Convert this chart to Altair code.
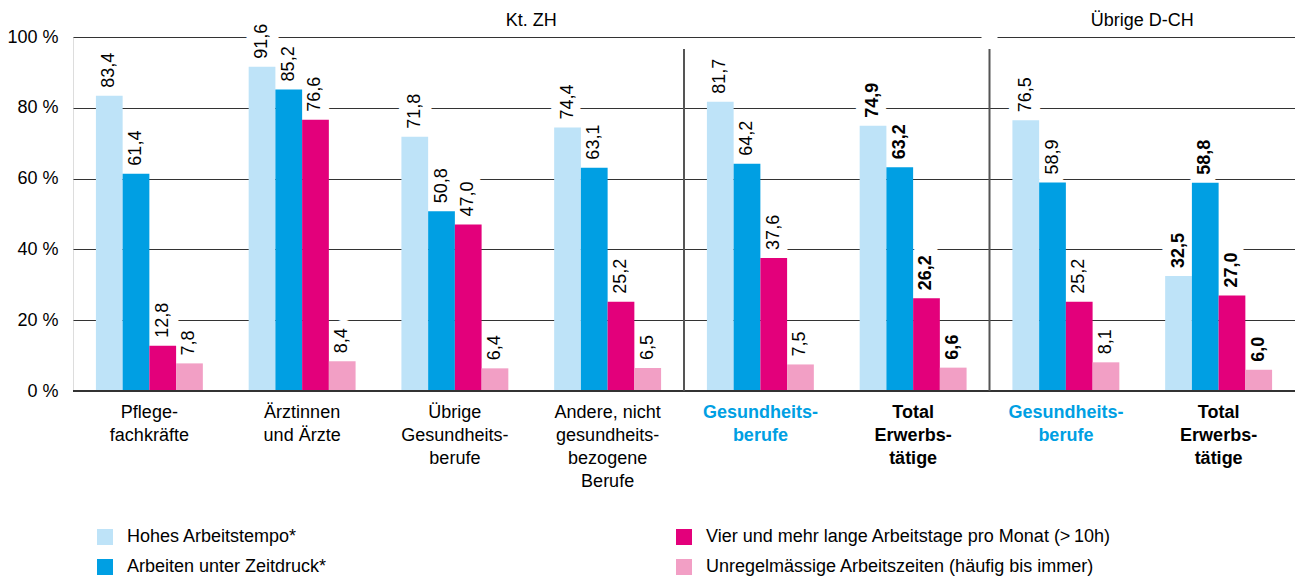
import json
import altair as alt
import pandas as pd

# ---------------- data ----------------
regions = ["Kt. ZH"] * 6 + ["Übrige D-CH"] * 2
categories = [
    "Pflege-\nfachkräfte",
    "Ärztinnen\nund Ärzte",
    "Übrige\nGesundheits-\nberufe",
    "Andere, nicht\ngesundheits-\nbezogene\nBerufe",
    "Gesundheits-\nberufe",
    "Total\nErwerbs-\ntätige",
    "Gesundheits-\nberufe",
    "Total\nErwerbs-\ntätige",
]
series = [
    "Hohes Arbeitstempo*",
    "Arbeiten unter Zeitdruck*",
    "Vier und mehr lange Arbeitstage pro Monat (>\u200910h)",
    "Unregelmässige Arbeitszeiten (häufig bis immer)",
]
hohes_tempo = [83.4, 91.6, 71.8, 74.4, 81.7, 74.9, 76.5, 32.5]
zeitdruck = [61.4, 85.2, 50.8, 63.1, 64.2, 63.2, 58.9, 58.8]
lange_tage = [12.8, 76.6, 47.0, 25.2, 37.6, 26.2, 25.2, 27.0]
unregelmaessig = [7.8, 8.4, 6.4, 6.5, 7.5, 6.6, 8.1, 6.0]
highlight_blue = [False, False, False, False, True, False, True, False]
highlight_total = [False, False, False, False, False, True, False, True]

colors = ["#BEE3F8", "#009FE3", "#E3007B", "#F29FC5"]

# ---------------- tables ----------------
keys = [f"{r}|{c}" for r, c in zip(regions, categories)]
rows = []
for s, vals in zip(series, [hohes_tempo, zeitdruck, lange_tage, unregelmaessig]):
    for k, v, b in zip(keys, vals, highlight_total):
        rows.append({"key": k, "series": s, "value": v, "bold": b})
df = pd.DataFrame(rows)

FONT = "Liberation Sans"
W, H = 1222, 354
PAD_INNER, PAD_OUTER = 0.3, 0.15
step = W / (len(keys) - PAD_INNER + 2 * PAD_OUTER)
half = step / 2

blue_keys = [k for k, b in zip(keys, highlight_blue) if b]
bold_keys = [k for k, b in zip(keys, highlight_total) if b]
test_blue = " || ".join(f"datum.label == {json.dumps(k)}" for k in blue_keys)
test_bold = " || ".join(f"datum.label == {json.dumps(k)}" for k in blue_keys + bold_keys)

x_enc = alt.X(
    "key:N",
    sort=keys,
    scale=alt.Scale(paddingInner=PAD_INNER, paddingOuter=PAD_OUTER),
    axis=alt.Axis(
        title=None,
        domain=False,
        ticks=False,
        labelAngle=0,
        labelPadding=12,
        labelFontSize=18,
        labelFont=FONT,
        labelLineHeight=23,
        labelBaseline="top",
        labelExpr="split(slice(datum.label, indexof(datum.label, '|') + 1), '\\n')",
        labelColor={"condition": {"test": test_blue, "value": "#009FE3"}, "value": "#000000"},
        labelFontWeight={"condition": {"test": test_bold, "value": "bold"}, "value": "normal"},
    ),
)
y_enc = alt.Y(
    "value:Q",
    scale=alt.Scale(domain=[0, 100], nice=False),
    axis=alt.Axis(
        title=None,
        values=[0, 20, 40, 60, 80, 100],
        labelExpr="datum.value + ' %'",
        grid=True,
        gridColor="#333333",
        gridWidth=1,
        domain=False,
        ticks=False,
        labelPadding=15,
        labelFontSize=18,
        labelFont=FONT,
        labelColor="#000000",
    ),
)
xoff = alt.XOffset("series:N", sort=series, scale=alt.Scale(paddingInner=0, paddingOuter=0))

base = alt.Chart(df).transform_calculate(
    label="replace(format(datum.value, '.1f'), '.', ',')"
)

bars = base.mark_bar().encode(
    x=x_enc,
    xOffset=xoff,
    y=y_enc,
    color=alt.Color(
        "series:N",
        scale=alt.Scale(domain=series, range=colors),
        legend=alt.Legend(
            title=None,
            orient="none",
            legendX=23,
            legendY=491,
            columns=2,
            columnPadding=348,
            rowPadding=12,
            symbolType="square",
            symbolSize=256,
            symbolStrokeWidth=0,
            symbolOpacity=1,
            labelFontSize=18,
            labelFont=FONT,
            labelColor="#000000",
            labelOffset=13,
            labelLimit=600,
        ),
    ),
)

def value_text(bold, halo):
    props = dict(angle=270, align="left", baseline="middle", dx=8, fontSize=18, font=FONT,
                 fontWeight="bold" if bold else "normal")
    if halo:
        props.update(color="white", stroke="white", strokeWidth=18, strokeJoin="round")
    else:
        props.update(color="black")
    return (
        base.transform_filter(f"datum.bold == {'true' if bold else 'false'}")
        .mark_text(**props)
        .encode(x=x_enc, xOffset=xoff, y=y_enc, text="label:N")
    )

halo_layers = [value_text(False, True), value_text(True, True)]
text_layers = [value_text(False, False), value_text(True, False)]

# baseline at 0 %
baseline = alt.Chart(pd.DataFrame({"v": [0]})).mark_rule(color="#333333", strokeWidth=2).encode(
    y=alt.Y("v:Q", scale=alt.Scale(domain=[0, 100], nice=False))
)

# vertical separators between blocks
sep_keys = [keys[4], keys[6]]
separators = alt.Chart(pd.DataFrame({"key": sep_keys})).mark_rule(
    color="#555555", strokeWidth=2, xOffset=-half
).encode(x=x_enc, y=alt.value(12), y2=alt.value(H))

# gap in the top line at the second block
gap = alt.Chart(pd.DataFrame({"key": [keys[6]], "v": [100]})).mark_point(
    shape="M -1 -0.35 L 1 -0.35 L 1 0.35 L -1 0.35 Z", size=256, filled=True,
    color="white", opacity=1, strokeWidth=0, xOffset=-half
).encode(x=x_enc, y=alt.Y("v:Q", scale=alt.Scale(domain=[0, 100], nice=False)))

# block headers
header_df = pd.DataFrame({"key": [keys[3], keys[7]], "title": ["Kt. ZH", "Übrige D-CH"]})
headers = alt.Chart(header_df).mark_text(
    fontSize=18, font=FONT, color="black", baseline="middle", align="center", xOffset=-half
).encode(x=x_enc, y=alt.value(-16), text="title:N")

chart = alt.layer(
    *halo_layers, bars, baseline, separators, gap, headers, *text_layers
).properties(
    width=W,
    height=H,
    autosize=alt.AutoSizeParams(type="none"),
    padding={"left": 65, "top": 29, "right": 0, "bottom": 185},
).configure_view(stroke=None).configure(font=FONT)

chart.save("out.html", embed_options={"renderer": "svg", "actions": False})
